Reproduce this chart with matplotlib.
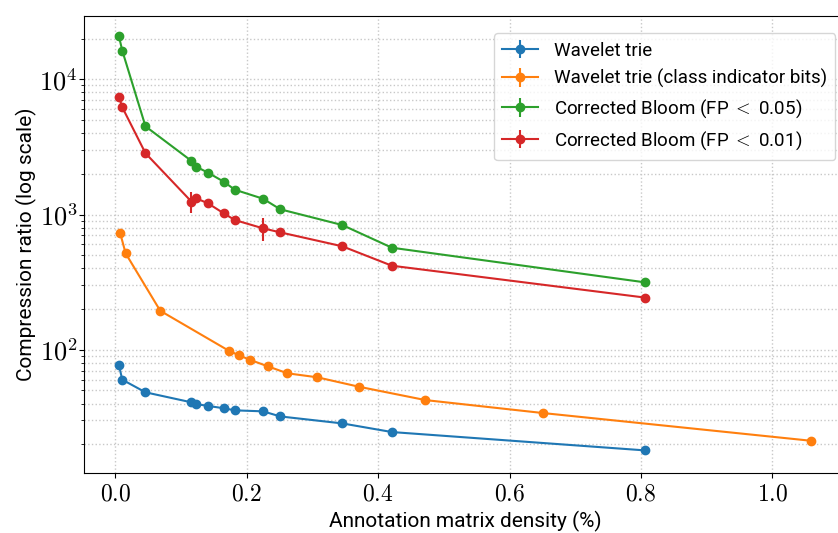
import matplotlib
matplotlib.use('Agg')
import matplotlib.pyplot as plt
import matplotlib.ticker as mticker
import numpy as np

# Densidades (%) compartidas por wavelet trie y Bloom
densidad = [0.0056, 0.0107, 0.046, 0.116, 0.123, 0.141, 0.165, 0.182,
            0.225, 0.251, 0.3455, 0.421, 0.806]
# Densidades para la variante con bits indicadores de clase
densidad_clase = [0.0076, 0.0158, 0.0685, 0.1726, 0.188, 0.2055, 0.232,
                  0.262, 0.3075, 0.371, 0.472, 0.651, 1.059]

wavelet = [76.7, 60.0, 48.4, 40.8, 39.6, 38.4, 36.9, 35.6, 35.0, 32.1,
           28.5, 24.6, 18.0]
wavelet_err = [0.5, 0.4, 0.3, 0.3, 0.3, 0.3, 0.3, 0.3, 0.3, 0.3, 0.2, 0.2, 0.2]

wavelet_clase = [726, 516, 194, 98.4, 91.0, 84.0, 75.4, 66.9, 62.5, 53.2,
                 42.4, 34.0, 21.2]
wavelet_clase_err = [5, 4, 2, 1, 1, 1, 1, 1, 1, 0.5, 0.5, 0.3, 0.2]

bloom_05 = [20800, 16300, 4490, 2490, 2260, 2040, 1750, 1525, 1308, 1093,
            836, 568, 315]
bloom_05_err = [300, 250, 60, 40, 35, 30, 25, 20, 20, 15, 10, 8, 5]

bloom_01 = [7430, 6210, 2840, 1245, 1318, 1211, 1021, 910, 790, 738,
            582, 418, 243]
bloom_01_err = [150, 120, 40, 220, 60, 30, 20, 20, 150, 50, 12, 8, 5]

etiquetas = ['Wavelet trie', 'Wavelet trie (class indicator bits)',
             'Corrected Bloom (FP $<$ 0.05)', 'Corrected Bloom (FP $<$ 0.01)']

plt.rcParams['mathtext.fontset'] = 'cm'
plt.rcParams['font.family'] = ['Roboto', 'DejaVu Sans']

fig = plt.figure(figsize=(8.38, 5.33), dpi=100)
ax = fig.add_axes([0.1002, 0.1126, 0.9093, 0.8574])

series = [(densidad, wavelet, wavelet_err),
          (densidad_clase, wavelet_clase, wavelet_clase_err),
          (densidad, bloom_05, bloom_05_err),
          (densidad, bloom_01, bloom_01_err)]
for (x, y, e), lab in zip(series, etiquetas):
    ax.errorbar(x, y, yerr=e, marker='o', markersize=6, linewidth=1.5,
                label=lab)

ax.set_yscale('log')
ax.set_xlim(-0.0476, 1.112)
ax.set_ylim(12.25, 29400)

# Ticks en fuente serif (estilo LaTeX)
ax.xaxis.set_major_locator(mticker.FixedLocator([0.0, 0.2, 0.4, 0.6, 0.8, 1.0]))
ax.xaxis.set_major_formatter(mticker.FuncFormatter(lambda v, p: f'${v:.1f}$'))
ax.yaxis.set_major_formatter(mticker.FuncFormatter(
    lambda v, p: f'$10^{{{int(round(np.log10(v)))}}}$'))
ax.tick_params(axis='x', which='major', labelsize=17)
ax.tick_params(axis='y', which='major', labelsize=19, pad=1)

ax.grid(True, which='major', linestyle=':', color='#c8c8c8', linewidth=1.0)
ax.grid(True, which='minor', axis='y', linestyle=':', color='#c8c8c8',
        linewidth=1.0)
ax.spines['right'].set_visible(False)

ax.set_xlabel('Annotation matrix density (%)', fontsize=15)
ax.set_ylabel('Compression ratio (log scale)', fontsize=15, labelpad=2)

ax.legend(loc='upper right', bbox_to_anchor=(0.9985, 0.983), fontsize=13.5,
          handlelength=1.9, handletextpad=0.85, borderpad=0.45,
          labelspacing=0.5)

plt.savefig('out.png', dpi=100)
